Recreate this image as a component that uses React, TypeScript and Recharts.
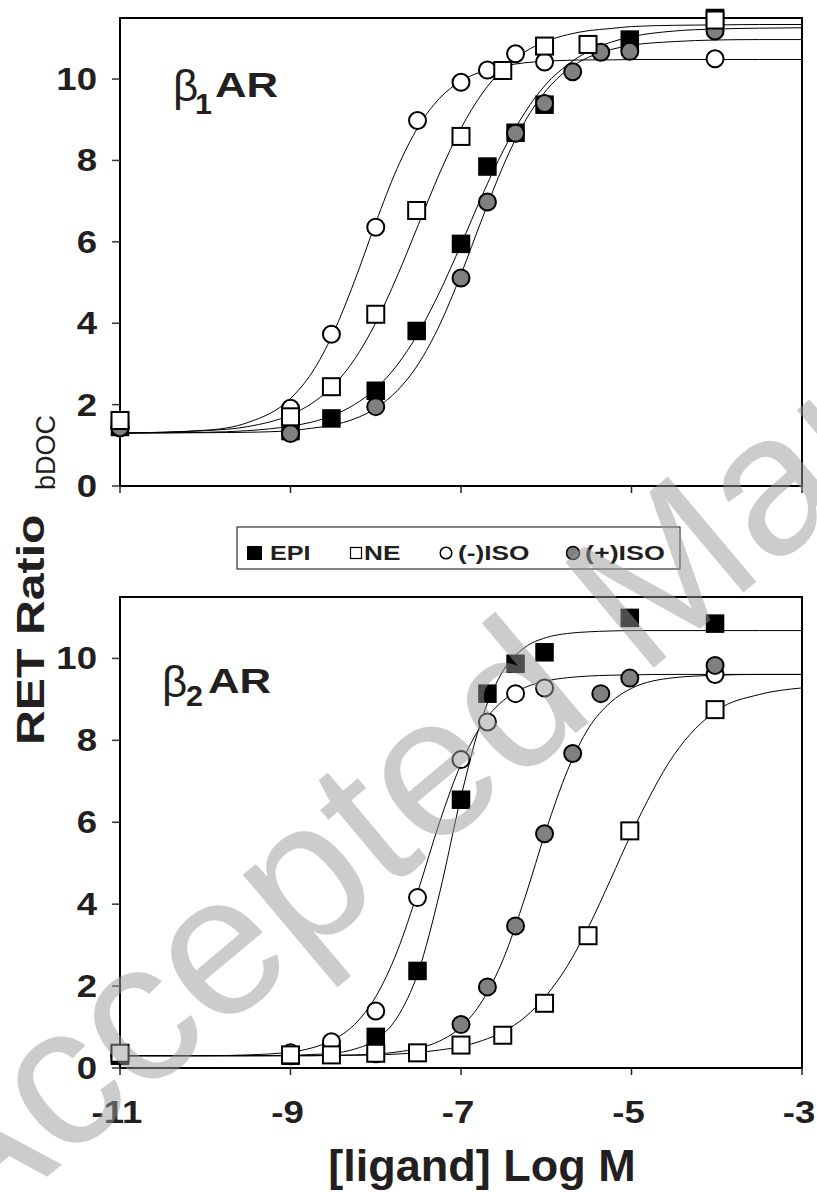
import React from 'react';
import { ComposedChart, Line, Scatter, XAxis, YAxis, ReferenceArea } from 'recharts';

const FONT = '"Liberation Sans", Arial, Helvetica, sans-serif';
const INK = '#231f20';

const X_TICKS = [-11, -9, -7, -5, -3];
const Y_TICKS = [0, 2, 4, 6, 8, 10];

const FIT_X = [-11, -10, -9.5, -9, -8.75, -8.5, -8.25, -8, -7.75, -7.5, -7.25, -7, -6.75, -6.5, -6.25, -6, -5.75, -5.5, -5.25, -5, -4.5, -4, -3.5, -3];

// beta1AR measured points [log M, RET ratio]
const b1Epi = [[-11, 1.45], [-9, 1.35], [-8.52, 1.66], [-8, 2.34], [-7.52, 3.81], [-7, 5.95], [-6.69, 7.85], [-6.36, 8.68], [-6.02, 9.37], [-5.02, 10.97], [-4.02, 11.5]];
const b1Ne = [[-11, 1.61], [-9, 1.7], [-8.52, 2.44], [-8, 4.22], [-7.52, 6.77], [-7, 8.59], [-6.51, 10.21], [-6.02, 10.81], [-5.51, 10.85], [-4.02, 11.45]];
const b1MinusIso = [[-11, 1.45], [-9, 1.91], [-8.52, 3.73], [-8, 6.36], [-7.51, 8.98], [-7, 9.92], [-6.69, 10.22], [-6.36, 10.62], [-6.02, 10.42], [-4.02, 10.5]];
const b1PlusIso = [[-11, 1.43], [-9, 1.29], [-8, 1.95], [-7, 5.11], [-6.69, 6.98], [-6.36, 8.67], [-6.02, 9.4], [-5.69, 10.18], [-5.36, 10.66], [-5.02, 10.68], [-4.02, 11.18]];

// beta1AR fitted curves, values at FIT_X
const b1EpiFit = [1.3, 1.32, 1.36, 1.47, 1.57, 1.74, 2.0, 2.39, 2.97, 3.76, 4.77, 5.93, 7.15, 8.26, 9.18, 9.88, 10.35, 10.69, 10.9, 11.04, 11.18, 11.23, 11.25, 11.26];
const b1NeFit = [1.3, 1.36, 1.46, 1.75, 2.03, 2.46, 3.11, 4.01, 5.15, 6.42, 7.69, 8.79, 9.65, 10.26, 10.67, 10.93, 11.09, 11.19, 11.24, 11.29, 11.32, 11.33, 11.34, 11.34];
const b1MinusIsoFit = [1.3, 1.37, 1.56, 2.15, 2.78, 3.75, 5.03, 6.47, 7.8, 8.83, 9.53, 9.95, 10.19, 10.32, 10.4, 10.44, 10.46, 10.47, 10.47, 10.48, 10.48, 10.48, 10.48, 10.48];
const b1PlusIsoFit = [1.3, 1.31, 1.32, 1.36, 1.42, 1.5, 1.65, 1.91, 2.34, 3.0, 3.96, 5.2, 6.58, 7.89, 8.96, 9.72, 10.23, 10.54, 10.72, 10.83, 10.92, 10.96, 10.97, 10.97];

// beta2AR measured points
const b2Epi = [[-11, 0.3], [-9, 0.3], [-8.52, 0.45], [-8, 0.76], [-7.51, 2.37], [-7, 6.55], [-6.69, 9.14], [-6.36, 9.87], [-6.02, 10.15], [-5.02, 10.99], [-4.02, 10.85]];
const b2Ne = [[-11, 0.36], [-9, 0.32], [-8.52, 0.32], [-8, 0.36], [-7.51, 0.37], [-7, 0.56], [-6.51, 0.8], [-6.02, 1.58], [-5.51, 3.23], [-5.02, 5.79], [-4.02, 8.75]];
const b2MinusIso = [[-11, 0.3], [-9, 0.37], [-8.52, 0.64], [-8, 1.39], [-7.51, 4.16], [-7, 7.53], [-6.69, 8.45], [-6.36, 9.14], [-6.02, 9.28], [-4.02, 9.61]];
const b2PlusIso = [[-11, 0.3], [-9, 0.3], [-8, 0.35], [-7, 1.06], [-6.69, 1.98], [-6.36, 3.47], [-6.02, 5.72], [-5.69, 7.68], [-5.36, 9.14], [-5.02, 9.52], [-4.02, 9.83]];

// beta2AR fitted curves
const b2EpiFit = [0.3, 0.3, 0.3, 0.31, 0.33, 0.36, 0.46, 0.69, 1.23, 2.35, 4.28, 6.62, 8.56, 9.72, 10.27, 10.51, 10.61, 10.65, 10.67, 10.68, 10.68, 10.68, 10.68, 10.68];
const b2NeFit = [0.3, 0.3, 0.3, 0.3, 0.3, 0.31, 0.31, 0.32, 0.34, 0.38, 0.44, 0.52, 0.67, 0.89, 1.24, 1.77, 2.5, 3.46, 4.58, 5.73, 7.65, 8.73, 9.12, 9.28];
const b2MinusIsoFit = [0.3, 0.3, 0.32, 0.39, 0.49, 0.69, 1.06, 1.74, 2.84, 4.35, 6.01, 7.42, 8.4, 8.98, 9.29, 9.45, 9.53, 9.57, 9.59, 9.6, 9.61, 9.61, 9.61, 9.61];
const b2PlusIsoFit = [0.3, 0.3, 0.3, 0.3, 0.3, 0.31, 0.32, 0.34, 0.39, 0.48, 0.66, 1.0, 1.64, 2.68, 4.16, 5.82, 7.27, 8.31, 8.92, 9.27, 9.53, 9.59, 9.61, 9.61];

const toPts = (pairs: number[][]) => pairs.map(([x, y]) => ({ x, y }));
const toFit = (vals: number[]) => FIT_X.map((x, i) => ({ x, y: vals[i] }));

const FilledSquare = (p: any) => (
  <rect x={p.cx - 8.5} y={p.cy - 8.5} width={17} height={17} fill="#000" stroke="#000" strokeWidth={1.5} />
);
const OpenSquare = (p: any) => (
  <rect x={p.cx - 8.5} y={p.cy - 8.5} width={17} height={17} fill="#fff" stroke="#000" strokeWidth={2} />
);
const OpenCircle = (p: any) => <circle cx={p.cx} cy={p.cy} r={8.5} fill="#fff" stroke="#000" strokeWidth={2} />;
const GreyCircle = (p: any) => <circle cx={p.cx} cy={p.cy} r={8.5} fill="#808080" stroke="#000" strokeWidth={2} />;

const YTick = ({ x, y, payload }: any) => (
  <text transform={`translate(${x},${y + 11}) scale(1.18,1)`} textAnchor="end" fontFamily={FONT} fontWeight="bold" fontSize={31} fill={INK}>
    {payload.value}
  </text>
);
const XTick = ({ x, y, payload }: any) => (
  <text transform={`translate(${x - 3},${y + 48}) scale(1.18,1)`} textAnchor="middle" fontFamily={FONT} fontWeight="bold" fontSize={31} fill={INK}>
    {payload.value}
  </text>
);
const NoTick = () => <g />;

interface PanelProps {
  top: number;
  height: number;
  marginTop: number;
  marginBottom: number;
  xAxisHeight: number;
  labels: boolean;
  epi: number[][];
  ne: number[][];
  minusIso: number[][];
  plusIso: number[][];
  fits: number[][];
}

const Panel = ({ top, height, marginTop, marginBottom, xAxisHeight, labels, epi, ne, minusIso, plusIso, fits }: PanelProps) => (
  <div style={{ position: 'absolute', left: 0, top, width: 817, height }}>
    <ComposedChart width={817} height={height} margin={{ top: marginTop, right: 15, bottom: marginBottom, left: 0 }}>
      <XAxis
        type="number"
        dataKey="x"
        domain={[-11, -3]}
        ticks={X_TICKS}
        height={xAxisHeight}
        axisLine={false}
        tickSize={7}
        tickMargin={0}
        tickLine={{ stroke: '#222', strokeWidth: 1.5 }}
        tick={labels ? <XTick /> : <NoTick />}
        interval={0}
      />
      <YAxis
        type="number"
        dataKey="y"
        domain={[0, 11.5]}
        ticks={Y_TICKS}
        width={120}
        axisLine={false}
        tickSize={8}
        tickMargin={15}
        tickLine={{ stroke: '#333', strokeWidth: 1.5 }}
        tick={<YTick />}
        interval={0}
      />
      <ReferenceArea x1={-11} x2={-3} y1={0} y2={11.5} fill="none" stroke="#000" strokeWidth={2} />
      {fits.map((vals, i) => (
        <Line key={i} data={toFit(vals)} dataKey="y" type="monotone" stroke="#000" strokeWidth={1} dot={false} isAnimationActive={false} />
      ))}
      <Scatter data={toPts(epi)} shape={FilledSquare} isAnimationActive={false} />
      <Scatter data={toPts(minusIso)} shape={OpenCircle} isAnimationActive={false} />
      <Scatter data={toPts(plusIso)} shape={GreyCircle} isAnimationActive={false} />
      <Scatter data={toPts(ne)} shape={OpenSquare} isAnimationActive={false} />
    </ComposedChart>
  </div>
);

const Stretch = ({ x, y, sx = 1.22, size, bold = true, anchor = 'start', children }: any) => (
  <text
    transform={`translate(${x},${y}) scale(${sx},1)`}
    textAnchor={anchor}
    fontFamily={FONT}
    fontWeight={bold ? 'bold' : 'normal'}
    fontSize={size}
    fill={INK}
  >
    {children}
  </text>
);

export default function App() {
  return (
    <div style={{ position: 'absolute', left: 0, top: 0, width: 817, height: 1192, background: '#fff', overflow: 'hidden' }}>
      <Panel top={0} height={530} marginTop={18} marginBottom={0} xAxisHeight={44} labels={false}
        epi={b1Epi} ne={b1Ne} minusIso={b1MinusIso} plusIso={b1PlusIso}
        fits={[b1EpiFit, b1NeFit, b1MinusIsoFit, b1PlusIsoFit]} />
      <Panel top={560} height={632} marginTop={37} marginBottom={72} xAxisHeight={52} labels
        epi={b2Epi} ne={b2Ne} minusIso={b2MinusIso} plusIso={b2PlusIso}
        fits={[b2EpiFit, b2NeFit, b2MinusIsoFit, b2PlusIsoFit]} />
      <svg width={817} height={1192} style={{ position: 'absolute', left: 0, top: 0, pointerEvents: 'none' }}>
        {/* panel labels */}
        <Stretch x={173} y={101} size={44} bold={false} sx={1}>β</Stretch>
        <Stretch x={195} y={114} size={29} sx={1.05}>1</Stretch>
        <Stretch x={215} y={97} size={35} sx={1.25}>AR</Stretch>
        <Stretch x={162} y={697} size={44} bold={false} sx={1}>β</Stretch>
        <Stretch x={186} y={706} size={29} sx={1.05}>2</Stretch>
        <Stretch x={208} y={693} size={35} sx={1.25}>AR</Stretch>

        {/* legend */}
        <rect x={237} y={527} width={443} height={42} fill="#fff" stroke="#333" strokeWidth={1.2} />
        <rect x={247} y={546} width={15} height={14} fill="#000" />
        <Stretch x={270} y={560} size={21} sx={1.2}>EPI</Stretch>
        <rect x={350.5} y={547.5} width={11} height={11} fill="#fff" stroke="#000" strokeWidth={1.2} />
        <Stretch x={364} y={560} size={21} sx={1.25}>NE</Stretch>
        <circle cx={446} cy={553} r={5.8} fill="#fff" stroke="#000" strokeWidth={1.5} />
        <Stretch x={458} y={560} size={21} sx={1.25}>(-)ISO</Stretch>
        <circle cx={573} cy={553} r={6.5} fill="#808080" stroke="#000" strokeWidth={1.5} />
        <Stretch x={585} y={560} size={21} sx={1.28}>(+)ISO</Stretch>

        {/* axis titles */}
        <Stretch x={482} y={1181} size={45} sx={1} anchor="middle">[ligand] Log M</Stretch>
        <text transform="translate(44,745) rotate(-90) scale(1.27,1)" fontFamily={FONT} fontWeight="bold" fontSize={38} fill={INK}>
          RET Ratio
        </text>
        <text transform="translate(55,490) rotate(-90)" fontFamily={FONT} fontSize={27} fill={INK}>
          bDOC
        </text>

        {/* watermark */}
        <text transform="translate(-40,1250) rotate(-40)" fontFamily={FONT} fontSize={200} fill="#999" fillOpacity={0.5}>
          Accepted Manuscript
        </text>
      </svg>
    </div>
  );
}
